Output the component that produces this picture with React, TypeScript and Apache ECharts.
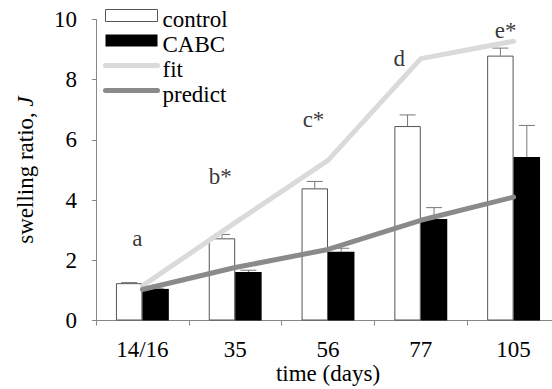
import React, { useEffect, useRef } from 'react';
import * as echarts from 'echarts';

const categories = ['14/16', '35', '56', '77', '105'];
const controlValues = [1.24, 2.73, 4.39, 6.46, 8.8];
const controlErrorTops = [1.26, 2.86, 4.62, 6.83, 9.05];
const cabcValues = [1.05, 1.61, 2.28, 3.37, 5.43];
const cabcErrorTops = [1.07, 1.67, 2.4, 3.75, 6.48];
const fitValues = [1.15, 3.25, 5.32, 8.7, 9.28];
const predictValues = [1.03, 1.76, 2.36, 3.33, 4.1];
const annotationTexts = ['a', 'b*', 'c*', 'd', 'e*'];
const annotationHeights = [2.71, 4.77, 6.69, 8.69, 9.63];
const yTicks = [0, 2, 4, 6, 8, 10];

const FONT = 'Liberation Serif';
const annotationOffsets = [-5, -15, -14.5, -21.5, -8];

export default function App() {
  const ref = useRef<HTMLDivElement>(null);
  useEffect(() => {
    if (!ref.current) return;
    const chart = echarts.init(ref.current, undefined, { renderer: 'svg' });
    const errData: number[][] = [];
    categories.forEach((_, i) => {
      errData.push([i, controlValues[i], controlErrorTops[i], -1]);
      errData.push([i, cabcValues[i], cabcErrorTops[i], 1]);
    });
    const txt = { fontFamily: FONT, fontSize: 23, color: '#000' };
    chart.setOption({
      animation: false,
      backgroundColor: '#fff',
      textStyle: { fontFamily: FONT, fontSize: 23, color: '#000' },
      grid: {
        left: 96,
        right: -8,
        top: 19.5,
        bottom: 68.5,
        containLabel: false,
        outerBoundsMode: 'none',
      },
      legend: {
        orient: 'vertical',
        left: 103,
        top: 0,
        padding: 0,
        itemGap: -6,
        itemWidth: 52,
        itemHeight: 12,
        formatter: '{t|{name}}',
        textStyle: { ...txt, lineHeight: 17, rich: { t: { ...txt, lineHeight: 17, padding: [8, 0, 0, 0] } } },
        data: [
          { name: 'control', icon: 'rect', itemStyle: { color: '#fff', borderColor: '#555', borderWidth: 1 } },
          { name: 'CABC', icon: 'rect', itemStyle: { color: '#000', borderWidth: 0 } },
          { name: 'fit', itemStyle: { opacity: 0 }, lineStyle: { width: 5, cap: 'round', opacity: 1 } },
          { name: 'predict', itemStyle: { opacity: 0 }, lineStyle: { width: 5, cap: 'round', opacity: 1 } },
        ],
      },
      xAxis: {
        type: 'category',
        data: categories,
        boundaryGap: true,
        name: 'time (days)',
        nameLocation: 'middle',
        nameGap: 44,
        nameMoveOverlap: false,
        nameTextStyle: { ...txt, lineHeight: 18 },
        axisLine: { lineStyle: { color: '#888', width: 1 } },
        axisTick: { show: true, length: 5, lineStyle: { color: '#888' } },
        axisLabel: { ...txt, lineHeight: 18, margin: 20 },
      },
      yAxis: {
        type: 'value',
        min: yTicks[0],
        max: yTicks[yTicks.length - 1],
        interval: 2,
        name: 'swelling ratio, {i|J}',
        nameLocation: 'middle',
        nameGap: 59,
        nameMoveOverlap: false,
        nameTextStyle: {
          ...txt,
          rich: { i: { ...txt, fontStyle: 'italic' } },
        },
        splitLine: { show: false },
        axisLine: { show: true, lineStyle: { color: '#888', width: 1 } },
        axisTick: { show: true, length: 4, lineStyle: { color: '#888' } },
        axisLabel: { ...txt, margin: 19 },
      },
      series: [
        {
          name: 'control',
          type: 'bar',
          data: controlValues,
          barGap: '0%',
          barCategoryGap: '43%',
          itemStyle: { color: '#fff', borderColor: '#555', borderWidth: 1 },
          z: 2,
        },
        {
          name: 'CABC',
          type: 'bar',
          data: cabcValues,
          barGap: '0%',
          barCategoryGap: '43%',
          itemStyle: { color: '#000', borderColor: '#000', borderWidth: 0 },
          z: 2,
        },
        {
          name: 'errors',
          type: 'custom',
          data: errData,
          z: 3,
          renderItem: (params: any, api: any) => {
            const idx = api.value(0);
            const lo = api.value(1);
            const hi = api.value(2);
            const side = api.value(3);
            const band = api.size([1, 0])[0];
            const base = api.coord([idx, lo]);
            const top = api.coord([idx, hi]);
            const x = base[0] + side * band * 0.1425;
            const half = 8;
            return {
              type: 'group',
              children: [
                { type: 'line', shape: { x1: x, y1: base[1], x2: x, y2: top[1] }, style: { stroke: '#777', lineWidth: 1 } },
                { type: 'line', shape: { x1: x - half, y1: top[1], x2: x + half, y2: top[1] }, style: { stroke: '#777', lineWidth: 1 } },
              ],
            };
          },
        },
        {
          name: 'fit',
          type: 'line',
          data: fitValues,
          symbol: 'none',
          color: '#dadada',
          lineStyle: { color: '#dadada', width: 5, cap: 'round', join: 'round' },
          z: 4,
        },
        {
          name: 'predict',
          type: 'line',
          data: predictValues,
          symbol: 'none',
          color: '#8a8a8a',
          lineStyle: { color: '#8a8a8a', width: 5, cap: 'round', join: 'round' },
          z: 5,
        },
        {
          name: 'annotations',
          type: 'scatter',
          symbolSize: 0,
          z: 6,
          data: annotationHeights.map((v, i) => ({
            value: [i, v],
            label: { offset: [annotationOffsets[i], 0] },
          })),
          label: {
            show: true,
            position: 'inside',
            ...txt,
            formatter: (p: any) => annotationTexts[p.dataIndex],
          },
        },
      ],
    });
    return () => chart.dispose();
  }, []);
  return <div ref={ref} style={{ position: 'fixed', left: 0, top: 0, width: 552, height: 389 }} />;
}
